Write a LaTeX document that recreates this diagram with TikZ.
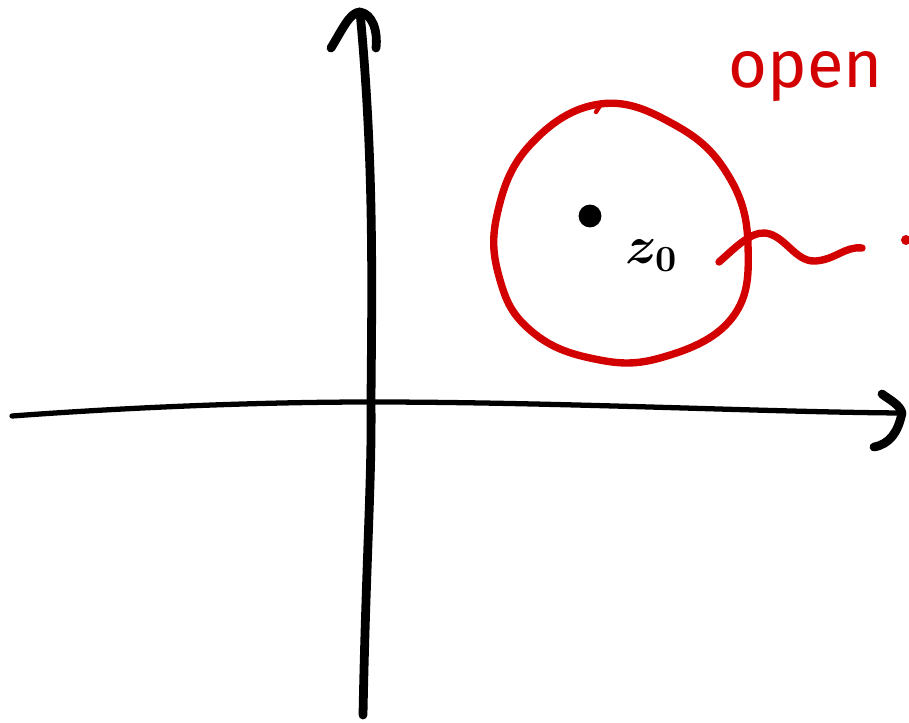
\documentclass[tikz,border=0pt]{standalone}
\usepackage{fontspec}
\setsansfont{Fira Sans}
\usetikzlibrary{calc}
\definecolor{cred}{HTML}{D20000}
\definecolor{cink}{HTML}{000000}
\tikzset{
  every picture/.style={line cap=round, line join=round},
  axis/.style={draw=cink, line width=#1},
  axis/.default=4pt,
  region/.style={draw=cred, line width=4.2pt},
  label/.style={font=\sffamily\fontsize{38}{40}\selectfont, text=cred},
  point/.style={circle, fill=cink, inner sep=0pt, minimum size=13pt},
}
\begin{document}
\begin{tikzpicture}[x=0.02cm, y=-0.02cm]
  \useasboundingbox (0,0) rectangle (909,723);
  % axes
  \coordinate (ytop) at (360,12);
  \coordinate (xtip) at (902,413);
  \draw[axis=5pt] (363,715) .. controls (366,560) and (372,480) .. (371,400)
    .. controls (372,280) and (374,160) .. (ytop);
  \draw[axis=5pt] (331,48) .. controls (342,30) and (350,12) .. (ytop)
    .. controls (372,14) and (378,30) .. (376,48);
  \draw[axis=3pt] (12,416) .. controls (120,408) and (250,402) .. (371,402)
    .. controls (560,402) and (760,412) .. (xtip);
  \draw[axis=5pt] (882,394) .. controls (890,400) and (900,405) .. (xtip)
    .. controls (898,432) and (890,444) .. (874,447);
  % open disc
  \draw[region] plot[smooth cycle, tension=0.7] coordinates {
    (600,104) (675,125) (728,175) (748,245) (732,318) (660,358) (590,358)
    (530,330) (500,280) (497,215) (530,145)};
  \draw[region, line width=2.5pt] (596,112) -- (601,104);
  \node[point] (z0) at (590,216) {};
  \node[scale=2.1, font=\Large\boldmath] (z0label) at (652,256) {$z_0$};
  % pointer to label
  \coordinate (wstart) at (719,262);
  \coordinate (wend) at (862,248);
  \draw[region] (wstart) .. controls (735,248) and (750,232) .. (765,233)
    .. controls (785,235) and (795,262) .. (815,261)
    .. controls (835,260) and (845,246) .. (wend);
  \fill[cred] (906,240) circle (5);
  \node[label, anchor=base] (open) at (806,88) {open};
\end{tikzpicture}
\end{document}
